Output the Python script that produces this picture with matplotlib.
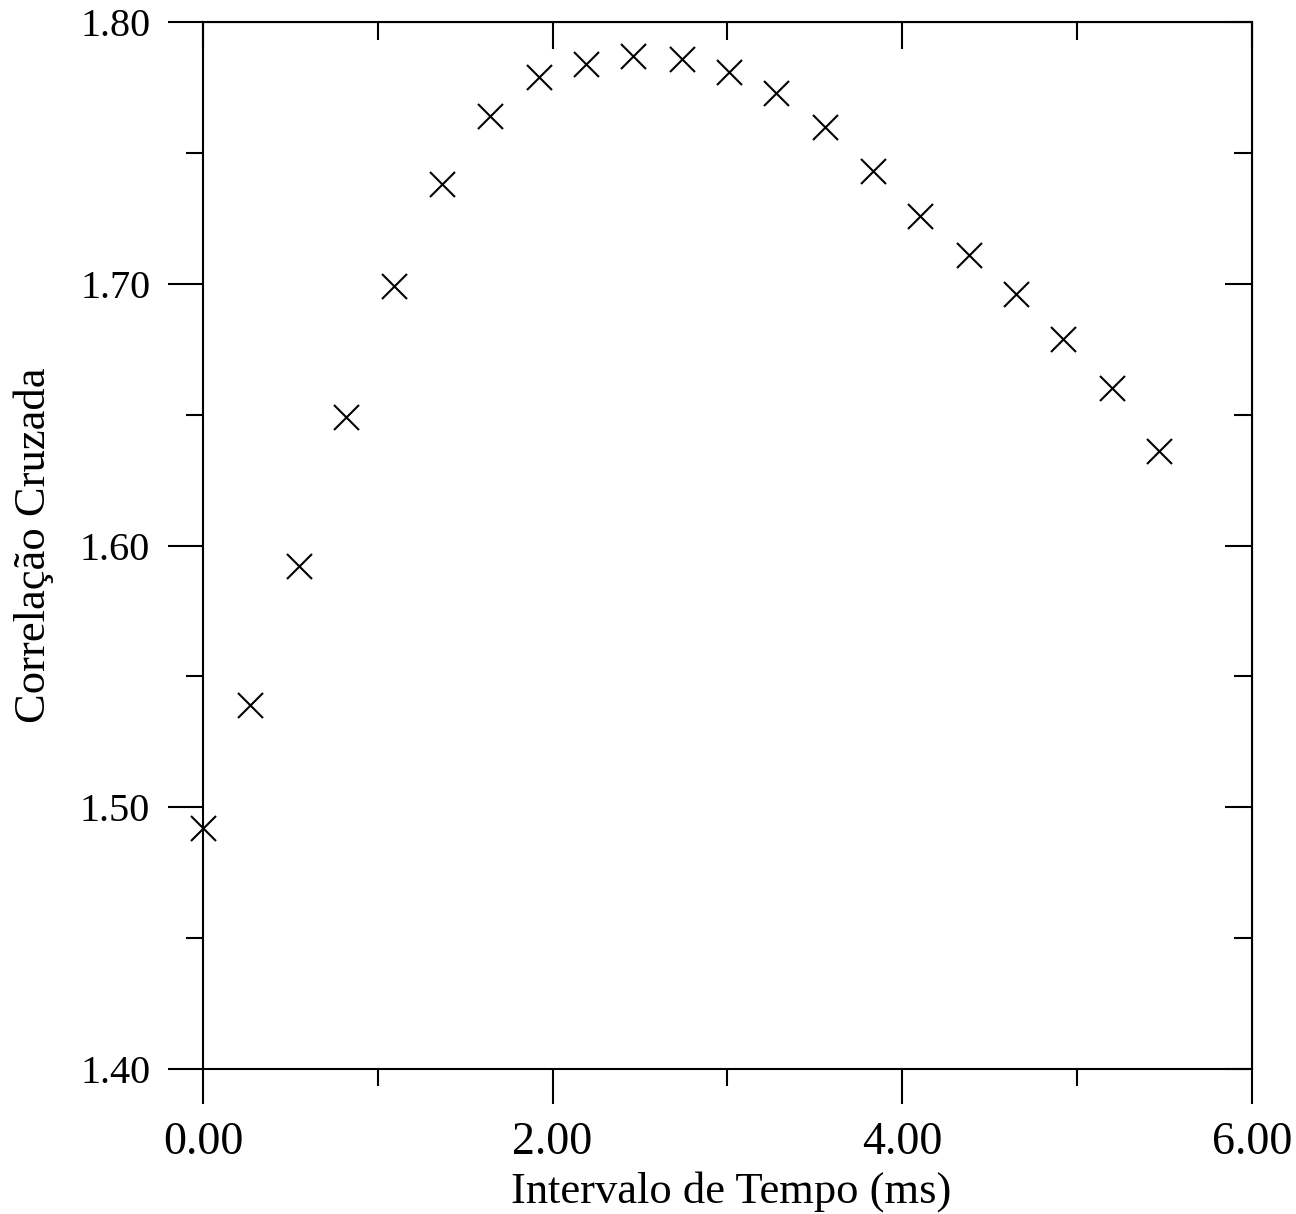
import matplotlib.pyplot as plt
from matplotlib.ticker import MultipleLocator, FormatStrFormatter

# intervalo de tempo (ms) e correlacao cruzada
tempo = [0.00, 0.27, 0.55, 0.82, 1.09, 1.37, 1.64, 1.92, 2.19, 2.46, 2.74,
         3.01, 3.28, 3.56, 3.83, 4.10, 4.38, 4.65, 4.92, 5.20, 5.47]
correlacao = [1.492, 1.539, 1.592, 1.649, 1.699, 1.738, 1.764, 1.779, 1.784,
              1.787, 1.786, 1.781, 1.773, 1.760, 1.743, 1.726, 1.711, 1.696,
              1.679, 1.660, 1.636]

xticks = [0, 2, 4, 6]
yticks = [1.40, 1.50, 1.60, 1.70, 1.80]

plt.rcParams['font.family'] = ['Liberation Serif', 'DejaVu Serif']

fig = plt.figure(figsize=(12.96, 12.14), dpi=100)
ax = fig.add_axes([0.1566, 0.1194, 0.8094, 0.8625])

ax.plot(tempo, correlacao, linestyle='none', marker='x', markersize=18,
        markeredgewidth=1.5, color='black', clip_on=False)

ax.set_xlim(0, 6)
ax.set_ylim(1.40, 1.80)
ax.set_xticks(xticks)
ax.set_yticks(yticks)
ax.xaxis.set_minor_locator(MultipleLocator(1))
ax.yaxis.set_minor_locator(MultipleLocator(0.05))
ax.xaxis.set_major_formatter(FormatStrFormatter('%.2f'))
ax.yaxis.set_major_formatter(FormatStrFormatter('%.2f'))

for s in ax.spines.values():
    s.set_linewidth(1.5)

ax.tick_params(which='major', direction='out', length=25, width=1.5)
ax.tick_params(which='minor', direction='out', length=12, width=1.5)
ax.tick_params(axis='x', which='major', labelsize=33, pad=13)
ax.tick_params(axis='y', which='major', labelsize=29, pad=13)

# ticks internos em cima e a direita
top = ax.secondary_xaxis('top')
top.set_xticks(xticks)
top.xaxis.set_minor_locator(MultipleLocator(1))
top.tick_params(which='major', direction='in', length=19.5, width=1.5, labeltop=False)
top.tick_params(which='minor', direction='in', length=13, width=1.5)
right = ax.secondary_yaxis('right')
right.set_yticks(yticks)
right.yaxis.set_minor_locator(MultipleLocator(0.05))
right.tick_params(which='major', direction='in', length=19.5, width=1.5, labelright=False)
right.tick_params(which='minor', direction='in', length=13, width=1.5)

ax.set_xlabel('Intervalo de Tempo (ms)', fontsize=32)
ax.set_ylabel('Correlação Cruzada', fontsize=32)
ax.xaxis.set_label_coords(0.504, -0.097)
ax.yaxis.set_label_coords(-0.142, 0.5)

fig.savefig('out.png', dpi=100)
